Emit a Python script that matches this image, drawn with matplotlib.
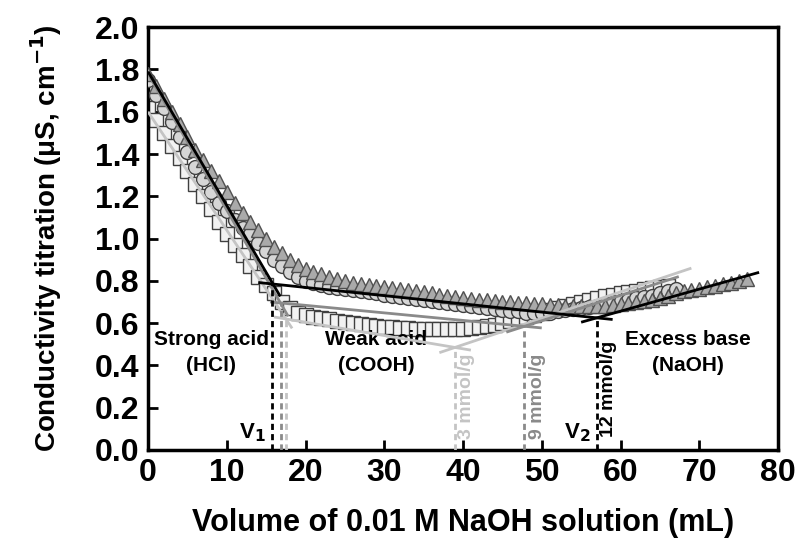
import numpy as np
import matplotlib
matplotlib.use("Agg")
import matplotlib.pyplot as plt

plt.rcParams['font.family'] = ['Liberation Sans', 'DejaVu Sans']
plt.rcParams['font.weight'] = 'bold'
plt.rcParams['axes.labelweight'] = 'bold'
plt.rcParams['mathtext.default'] = 'bf'

# Dreiecke: 12 mmol/g
cond_tri = [1.78, 1.72, 1.66, 1.60, 1.54, 1.48, 1.42, 1.37, 1.32, 1.27, 1.22,
            1.17, 1.12, 1.08, 1.04, 1.00, 0.96, 0.93, 0.90, 0.875, 0.855,
            0.84, 0.83, 0.82, 0.81, 0.80, 0.79, 0.785, 0.78, 0.775, 0.77,
            0.765, 0.76, 0.755, 0.75, 0.745, 0.74, 0.735, 0.73, 0.725, 0.72,
            0.715, 0.71, 0.71, 0.705, 0.70, 0.70, 0.695, 0.695, 0.69, 0.69,
            0.685, 0.685, 0.68, 0.68, 0.68, 0.68, 0.68, 0.68, 0.685, 0.69,
            0.695, 0.70, 0.705, 0.71, 0.72, 0.73, 0.74, 0.75, 0.755, 0.76,
            0.77, 0.775, 0.785, 0.79, 0.80, 0.81]
# Kreise: 9 mmol/g
cond_circ = [1.75, 1.68, 1.62, 1.55, 1.48, 1.41, 1.34, 1.28, 1.22, 1.17, 1.13,
             1.09, 1.05, 1.02, 0.98, 0.94, 0.90, 0.87, 0.84, 0.82, 0.80,
             0.79, 0.78, 0.77, 0.765, 0.76, 0.755, 0.75, 0.745, 0.74, 0.735,
             0.73, 0.725, 0.72, 0.715, 0.71, 0.705, 0.70, 0.695, 0.69, 0.685,
             0.68, 0.675, 0.67, 0.665, 0.66, 0.655, 0.655, 0.65, 0.65, 0.65,
             0.65, 0.655, 0.66, 0.665, 0.67, 0.675, 0.68, 0.69, 0.70, 0.705,
             0.71, 0.72, 0.725, 0.73, 0.74, 0.75, 0.76]
# Quadrate: 3 mmol/g
cond_sq = [1.62, 1.56, 1.50, 1.44, 1.38, 1.32, 1.26, 1.20, 1.14, 1.08, 1.02,
           0.97, 0.92, 0.87, 0.82, 0.78, 0.74, 0.70, 0.67, 0.65, 0.64,
           0.63, 0.625, 0.62, 0.61, 0.605, 0.60, 0.595, 0.59, 0.585, 0.58,
           0.58, 0.575, 0.575, 0.57, 0.57, 0.57, 0.57, 0.57, 0.57, 0.57,
           0.575, 0.58, 0.585, 0.59, 0.60, 0.61, 0.62, 0.63, 0.64, 0.65,
           0.66, 0.67, 0.68, 0.69, 0.70, 0.71, 0.72, 0.73, 0.735, 0.74,
           0.745, 0.75, 0.76, 0.765, 0.77, 0.775]

vol_tri = np.arange(len(cond_tri))      # 1 mL Schritte
vol_circ = np.arange(len(cond_circ))
vol_sq = np.arange(len(cond_sq))

# Ausgleichsgeraden (x-Start, y-Start, x-Ende, y-Ende)
fit_black = [(0.0, 1.79, 16.8, 0.726), (14.0, 0.792, 59.0, 0.617), (55.0, 0.604, 77.6, 0.840)]
fit_gray = [(0.0, 1.78, 17.8, 0.632), (15.5, 0.700, 50.0, 0.577), (45.5, 0.557, 67.4, 0.820)]
fit_light = [(0.0, 1.60, 18.3, 0.575), (16.0, 0.629, 41.0, 0.472), (37.0, 0.460, 69.0, 0.860)]

# Äquivalenzpunkte (x, y) der gestrichelten Linien
eq_black = [(15.8, 0.785), (57.0, 0.625)]
eq_gray = [(16.9, 0.69), (47.8, 0.585)]
eq_light = [(17.5, 0.62), (39.0, 0.485)]

col_black, col_gray, col_light = "#000000", "#8a8a8a", "#c4c4c4"

fig, ax = plt.subplots(figsize=(8, 5.44), dpi=100)
fig.subplots_adjust(left=0.185, right=0.9725, bottom=0.173, top=0.950)

# ── Messpunkte ──
ax.plot(vol_sq, cond_sq, ls="none", marker="s", ms=9.5, mfc="#f2f2f2",
        mec="#404040", mew=1.0, zorder=2)
ax.plot(vol_circ, cond_circ, ls="none", marker="o", ms=10, mfc="#d6d6d6",
        mec="#404040", mew=1.0, zorder=3)
ax.plot(vol_tri, cond_tri, ls="none", marker="^", ms=10.5, mfc="#aaaaaa",
        mec="#505050", mew=1.0, zorder=4)

# ── Geraden ──
for segs, col in [(fit_light, col_light), (fit_gray, col_gray), (fit_black, col_black)]:
    for x0, y0, x1, y1 in segs:
        ax.plot([x0, x1], [y0, y1], color=col, lw=2, zorder=5,
                solid_capstyle="butt")

# ── gestrichelte Senkrechten ──
for pts, col in [(eq_light, col_light), (eq_gray, col_gray), (eq_black, col_black)]:
    for x, y in pts:
        ax.plot([x, x], [0, y], color=col, lw=2, ls=(0, (2.2, 1.5)), zorder=6)

# ── Beschriftungen ──
fs_reg = 15
ax.text(8.0, 0.52, "Strong acid", ha="center", va="center", fontsize=fs_reg)
ax.text(8.0, 0.40, "(HCl)", ha="center", va="center", fontsize=fs_reg)
ax.text(29.0, 0.52, "Weak acid", ha="center", va="center", fontsize=fs_reg)
ax.text(29.0, 0.40, "(COOH)", ha="center", va="center", fontsize=fs_reg)
ax.text(68.5, 0.52, "Excess base", ha="center", va="center", fontsize=fs_reg)
ax.text(68.5, 0.40, "(NaOH)", ha="center", va="center", fontsize=fs_reg)
ax.text(13.3, 0.08, "V$_1$", ha="center", va="center", fontsize=16)
ax.text(54.5, 0.08, "V$_2$", ha="center", va="center", fontsize=16)

ax.text(40.5, 0.05, "3 mmol/g", rotation=90, ha="center", va="bottom",
        fontsize=14, color=col_light)
ax.text(49.4, 0.05, "9 mmol/g", rotation=90, ha="center", va="bottom",
        fontsize=14, color=col_gray)
ax.text(58.5, 0.06, "12 mmol/g", rotation=90, ha="center", va="bottom",
        fontsize=14, color=col_black)

# ── Achsen ──
ax.set_xlim(0, 80)
ax.set_ylim(0, 2.0)
ax.set_xticks(np.arange(0, 81, 10))
ax.set_yticks(np.arange(0, 2.01, 0.2))
ax.set_yticklabels([f"{v:.1f}" for v in np.arange(0, 2.01, 0.2)])
ax.tick_params(direction="in", length=7, width=2, labelsize=23, pad=6,
               top=False, right=False)
for s in ax.spines.values():
    s.set_linewidth(2.5)

ax.set_xlabel("Volume of 0.01 M NaOH solution (mL)", fontsize=22, labelpad=14)
ax.set_ylabel("Conductivity titration (μS, cm$^{-1}$)", fontsize=20, labelpad=22)

fig.savefig("out.png", dpi=100)
